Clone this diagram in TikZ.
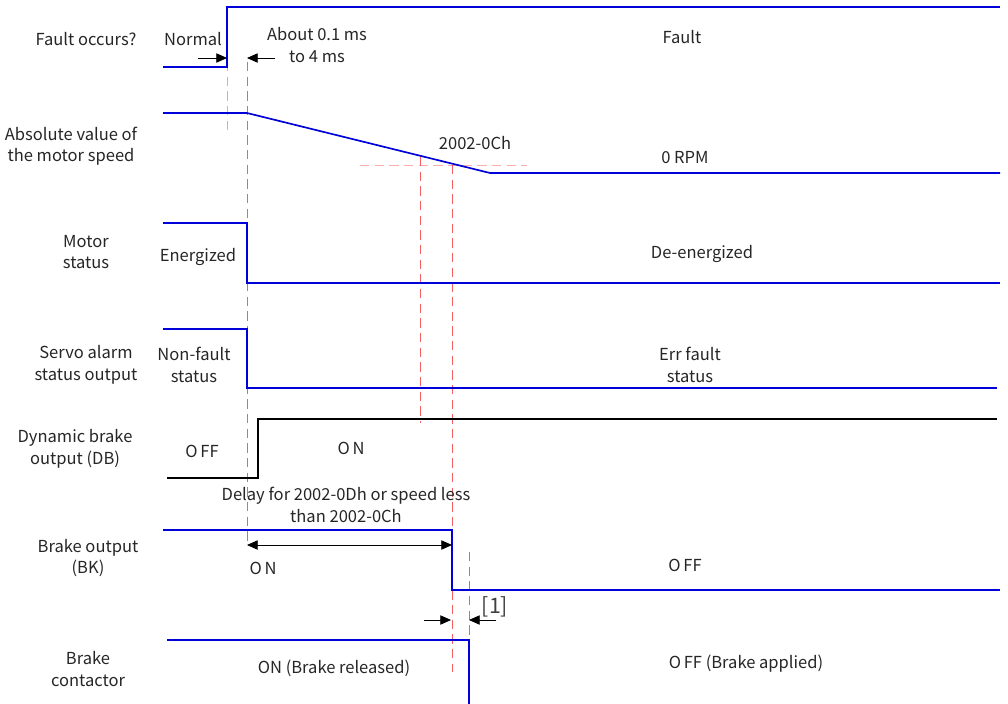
\documentclass[tikz,border=0pt]{standalone}
\usepackage{fontspec}
\setmainfont{Noto Sans CJK SC}
\usetikzlibrary{arrows.meta}
\definecolor{guidered}{RGB}{245,95,95}
\begin{document}
\begin{tikzpicture}[x=0.75pt,y=-0.75pt,
  wave/.style={draw=blue!85!black,line width=1.25pt},
  dbwave/.style={draw=black,line width=1.25pt},
  guide/.style={draw=guidered,line width=0.6pt,dash pattern=on 7pt off 4pt},
  dim/.style={draw=black,line width=0.6pt,-{Triangle[length=8pt,width=7pt]}},
  dimboth/.style={draw=black,line width=0.6pt,{Triangle[length=8pt,width=7pt]}-{Triangle[length=8pt,width=7pt]}},
  lbl/.style={font=\fontsize{12.4pt}{16.2pt}\selectfont,align=center,inner sep=0pt,text=black!85},
]
\useasboundingbox (0,0) rectangle (1008,704);
% guides
\draw[guide,draw opacity=0.6] (227,62) -- (227,135);
\draw[guide] (247,62) -- (247,545);
\draw[guide,draw opacity=0.5] (360,165) -- (527,165);
\draw[guide] (420,157) -- (420,423);
\draw[guide] (452,165) -- (452,672);
\draw[guide] (469,552) -- (469,664);
% waveforms
\draw[wave] (163,67) -- (227,67) -- (227,7) -- (1000,7);
\draw[wave] (163,113) -- (247,113) -- (490,173) -- (1000,173);
\draw[wave] (163,223) -- (247,223) -- (247,283) -- (1000,283);
\draw[wave] (163,329) -- (247,329) -- (247,388) -- (997,388);
\draw[dbwave] (167,478) -- (258,478) -- (258,419) -- (997,419);
\draw[wave] (163,530) -- (452,530) -- (452,590) -- (1000,590);
\draw[wave] (167,640) -- (469,640) -- (469,706);
% row labels
\node[lbl] (l1) at (86,39) {Fault occurs?};
\node[lbl] (l2) at (71,146) {Absolute value of\\the motor speed};
\node[lbl] (l3) at (86,252) {Motor\\status};
\node[lbl] (l4) at (86,365) {Servo alarm\\status output};
\node[lbl] (l5) at (75,449) {Dynamic brake\\output (DB)};
\node[lbl] (l6) at (88,558) {Brake output\\(BK)};
\node[lbl] (l7) at (88,669) {Brake\\contactor};
% state labels
\node[lbl] (normal) at (193,39) {Normal};
\node[lbl] (about) at (317,45) {About 0.1 ms\\to 4 ms};
\node[lbl] (fault) at (682,37) {Fault};
\node[lbl] (th) at (475,143) {2002-0Ch};
\node[lbl] (rpm) at (685,158) {0 RPM};
\node[lbl] (en) at (198,257) {Energized};
\node[lbl] (de) at (702,254) {De-energized};
\node[lbl] (nf) at (194,365) {Non-fault\\status};
\node[lbl] (err) at (690,365) {Err fault\\status};
\node[lbl] (dboff) at (202,451) {O\,FF};
\node[lbl] (dbon) at (351,448) {O\,N};
\node[lbl] (delay) at (346,505) {Delay for 2002-0Dh or speed less\\than 2002-0Ch};
\node[lbl] (bkon) at (263,568) {O\,N};
\node[lbl] (bkoff) at (685,565) {O\,FF};
\node[lbl] (bcon) at (334,668) {ON (Brake released)};
\node[lbl] (bcoff) at (746,664) {O\,FF (Brake applied)};
\node[lbl,font=\fontsize{16pt}{18pt}\selectfont,text=black!75] (n1) at (495,607) {[1]};
% dimension arrows
\coordinate (a1s) at (198,58); \coordinate (a1e) at (227,58);
\coordinate (a2s) at (275,58); \coordinate (a2e) at (247,58);
\draw[dim] (a1s) -- (a1e);
\draw[dim] (a2s) -- (a2e);
\coordinate (d1) at (247,545); \coordinate (d2) at (452,545);
\draw[dimboth] (d1) -- (d2);
\coordinate (b1s) at (424,620); \coordinate (b1e) at (451,620);
\coordinate (b2s) at (496,620); \coordinate (b2e) at (469,620);
\draw[dim] (b1s) -- (b1e);
\draw[dim] (b2s) -- (b2e);
\end{tikzpicture}
\end{document}
